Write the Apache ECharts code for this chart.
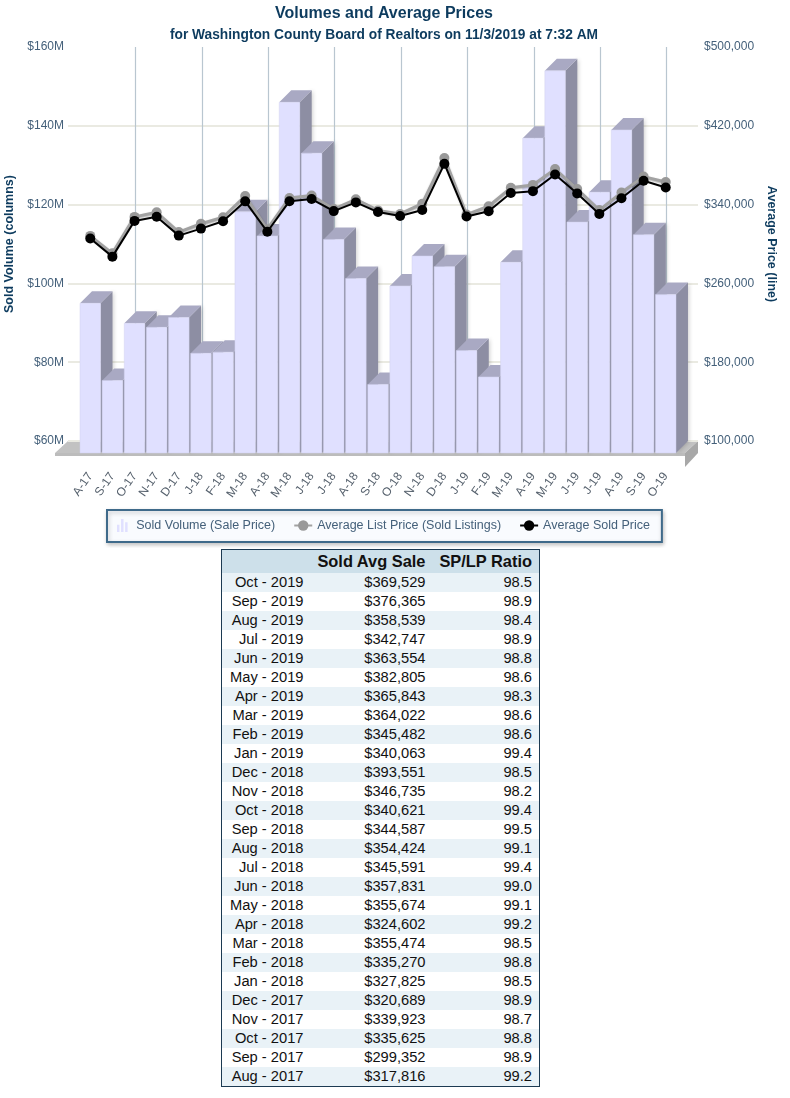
<!DOCTYPE html>
<html><head><meta charset="utf-8">
<style>
html,body{margin:0;padding:0;background:#fff;font-family:"Liberation Sans",Arial,sans-serif}
#chart{position:absolute;left:0;top:0;width:790px;height:548px}
#tbl{position:absolute;left:221px;top:549px;width:318px;border-collapse:collapse;border:1px solid #1c3a52;table-layout:fixed;font-size:14.7px;color:#111}
#tbl th{background:#cde0ea;font-size:16.4px;font-weight:bold;height:23px;padding:0 7px 0 0;text-align:right;color:#111}
#tbl td{height:19px;padding:0 7px 0 0;text-align:right;line-height:19px}
#tbl tr:nth-child(odd) td{background:#e9f2f7}
</style></head><body>
<div id="chart"></div>
<table id="tbl"><colgroup><col style="width:89px"><col style="width:122px"><col style="width:107px"></colgroup><thead></thead><tbody></tbody></table>
<script src="https://cdn.jsdelivr.net/npm/echarts@6/dist/echarts.min.js"></script>
<script>
var categories=['A-17','S-17','O-17','N-17','D-17','J-18','F-18','M-18','A-18','M-18','J-18','J-18','A-18','S-18','O-18','N-18','D-18','J-19','F-19','M-19','A-19','M-19','J-19','J-19','A-19','S-19','O-19'];
var soldVolume=[98.0,78.4,92.9,91.9,94.4,85.3,85.6,121.2,115.1,149.0,136.1,114.2,104.3,77.4,102.4,110.0,107.3,86.0,79.3,108.4,139.9,157.0,118.6,126.2,142.0,115.4,100.2];
var listPrice=[320400,302700,339700,344400,324300,332800,339300,360900,327200,358900,361400,347700,357600,346300,342700,353100,399500,342100,350500,369200,372200,388200,368000,346600,364400,380600,375100];
var soldPrice=[317816,299352,335625,339923,320689,327825,335270,355474,324602,355674,357831,345591,354424,344587,340621,346735,393551,340063,345482,364022,365843,382805,363554,342747,358539,376365,369529];
var tableMonths=['Oct - 2019','Sep - 2019','Aug - 2019','Jul - 2019','Jun - 2019','May - 2019','Apr - 2019','Mar - 2019','Feb - 2019','Jan - 2019','Dec - 2018','Nov - 2018','Oct - 2018','Sep - 2018','Aug - 2018','Jul - 2018','Jun - 2018','May - 2018','Apr - 2018','Mar - 2018','Feb - 2018','Jan - 2018','Dec - 2017','Nov - 2017','Oct - 2017','Sep - 2017','Aug - 2017'];
var tableSale=['$369,529','$376,365','$358,539','$342,747','$363,554','$382,805','$365,843','$364,022','$345,482','$340,063','$393,551','$346,735','$340,621','$344,587','$354,424','$345,591','$357,831','$355,674','$324,602','$355,474','$335,270','$327,825','$320,689','$339,923','$335,625','$299,352','$317,816'];
var tableRatio=['98.5','98.9','98.4','98.9','98.8','98.6','98.3','98.6','98.6','99.4','98.5','98.2','99.4','99.5','99.1','99.4','99.0','99.1','99.2','98.5','98.8','98.5','98.9','98.7','98.8','98.9','99.2'];
var tableHead=['','Sold Avg Sale','SP/LP Ratio'];
var legendNames=['Sold Volume (Sale Price)','Average List Price (Sold Listings)','Average Sold Price'];

document.querySelector('#tbl thead').innerHTML='<tr>'+tableHead.map(function(h){return '<th>'+h+'</th>'}).join('')+'</tr>';
document.querySelector('#tbl tbody').innerHTML=tableMonths.map(function(m,i){return '<tr><td>'+m+'</td><td>'+tableSale[i]+'</td><td>'+tableRatio[i]+'</td></tr>'}).join('');

var DEPTH=12, font='"Liberation Sans",Arial,sans-serif', labelColor='#44607a', titleColor='#0d3b5e';
function bar3d(params,api){
  var i=api.value(0), top=api.coord([i,api.value(1)]), base=api.coord([i,60]);
  var w=api.size([1,0])[0]*0.925, l=top[0]-w/2, r=top[0]+w/2, t=top[1], b=base[1], d=DEPTH;
  return {type:'group',children:[
    {type:'polygon',shape:{points:[[r,t],[r+d,t-d],[r+d,b-d],[r,b]]},style:{fill:'#8d8ea3',shadowBlur:4,shadowColor:'rgba(0,0,0,0.2)',shadowOffsetX:1}},
    {type:'polygon',shape:{points:[[l,t],[l+d,t-d],[r+d,t-d],[r,t]]},style:{fill:'#a9a9c3'}},
    {type:'rect',shape:{x:l,y:t,width:w,height:b-t},style:{fill:'#e0e0ff',stroke:'#d2d2ee',lineWidth:0.5}}
  ]};
}
var chart=echarts.init(document.getElementById('chart'),null,{renderer:'canvas'});
chart.setOption({
  animation:false,
  textStyle:{fontFamily:font},
  title:[
    {text:'Volumes and Average Prices',left:379,top:1,textAlign:'center',textStyle:{fontSize:16,fontWeight:'bold',color:titleColor,fontFamily:font}},
    {text:'for Washington County Board of Realtors on 11/3/2019 at 7:32 AM',left:379,top:23,textAlign:'center',textStyle:{fontSize:13.75,fontWeight:'bold',color:titleColor,fontFamily:font}}
  ],
  grid:[
    {left:68,width:630,top:47,height:394,outerBoundsMode:'none'},
    {left:91.2,width:597.6,top:47,height:394,outerBoundsMode:'none'},
    {left:79.2,width:597.6,top:59,height:394,outerBoundsMode:'none'}
  ],
  xAxis:[
    {gridIndex:0,type:'category',data:categories,show:false},
    {gridIndex:1,type:'category',data:categories,axisLine:{show:false},axisTick:{show:false},axisLabel:{show:false},
     splitLine:{show:true,showMinLine:true,showMaxLine:false,interval:function(i){return i%3===2},lineStyle:{color:'#b9c6d0',width:1.2}}},
    {gridIndex:2,type:'category',data:categories,axisLine:{show:false},axisTick:{show:false},
     axisLabel:{interval:0,rotate:55,margin:21,fontSize:12,color:'#56616d',fontFamily:font}}
  ],
  yAxis:[
    {gridIndex:0,type:'value',min:60,max:160,interval:20,position:'left',
     name:'Sold Volume (columns)',nameLocation:'middle',nameRotate:90,nameGap:45,nameTextStyle:{fontSize:12.5,fontWeight:'bold',color:titleColor,fontFamily:font},
     axisLine:{show:false},axisTick:{show:false},
     axisLabel:{margin:4,fontSize:12,color:labelColor,fontFamily:font,formatter:function(v){return '$'+v+'M'}},
     splitLine:{show:true,showMaxLine:false,lineStyle:{color:'#eaeae2',width:2}}},
    {gridIndex:0,type:'value',min:100000,max:500000,interval:80000,position:'right',
     name:'Average Price (line)',nameLocation:'middle',nameRotate:-90,nameGap:57,nameTextStyle:{fontSize:12.5,fontWeight:'bold',color:titleColor,fontFamily:font},
     axisLine:{show:false},axisTick:{show:false},
     axisLabel:{margin:6,fontSize:12,color:labelColor,fontFamily:font,formatter:function(v){return '$'+v.toLocaleString('en-US')}},
     splitLine:{show:false}},
    {gridIndex:1,type:'value',min:60,max:160,show:false},
    {gridIndex:2,type:'value',min:60,max:160,show:false},
    {gridIndex:2,type:'value',min:100000,max:500000,show:false}
  ],
  legend:{
    left:107,top:510,orient:'horizontal',
    padding:[9,12,10,10],itemGap:18,itemWidth:18,itemHeight:13,
    backgroundColor:'#f9fbfe',borderColor:'#3f6a8a',borderWidth:2,borderRadius:0,
    shadowColor:'rgba(0,0,0,0.22)',shadowBlur:4,shadowOffsetX:1,shadowOffsetY:2,
    textStyle:{fontSize:12.5,color:labelColor,fontFamily:font},
    data:[
      {name:legendNames[0],icon:'path://M0,7h3v9h-3z M5,0h3v16h-3z M10,4h3v12h-3z',itemStyle:{color:'#e0e0ff'}},
      {name:legendNames[1]},
      {name:legendNames[2]}
    ]
  },
  graphic:[
    {type:'polygon',z:0,shape:{points:[[68,441],[698,441],[685,453],[55,453]]},style:{fill:'#c2c2c2'}},
    {type:'rect',z:0,shape:{x:55,y:453,width:630,height:3},style:{fill:'#bcbcbc'}},
    {type:'polygon',z:0,shape:{points:[[685,453],[698,441],[698,453],[685,467]]},style:{fill:'#a8a8a8'}}
  ],
  series:[
    {type:'line',xAxisIndex:1,yAxisIndex:2,data:[],silent:true},
    {name:legendNames[0],type:'custom',xAxisIndex:2,yAxisIndex:3,z:3,
     encode:{x:0,y:1},renderItem:bar3d,clip:false,
     data:soldVolume.map(function(v,i){return [i,v]}),itemStyle:{color:'#e0e0ff'}},
    {name:legendNames[1],type:'line',xAxisIndex:2,yAxisIndex:4,z:4,data:listPrice,symbol:'circle',symbolSize:10,
     itemStyle:{color:'#999999'},lineStyle:{color:'#a2a2a2',width:3,shadowColor:'rgba(0,0,0,0.3)',shadowBlur:2,shadowOffsetY:1}},
    {name:legendNames[2],type:'line',xAxisIndex:2,yAxisIndex:4,z:5,data:soldPrice,symbol:'circle',symbolSize:10,
     itemStyle:{color:'#000000'},lineStyle:{color:'#000000',width:2}}
  ]
});
</script></body></html>
